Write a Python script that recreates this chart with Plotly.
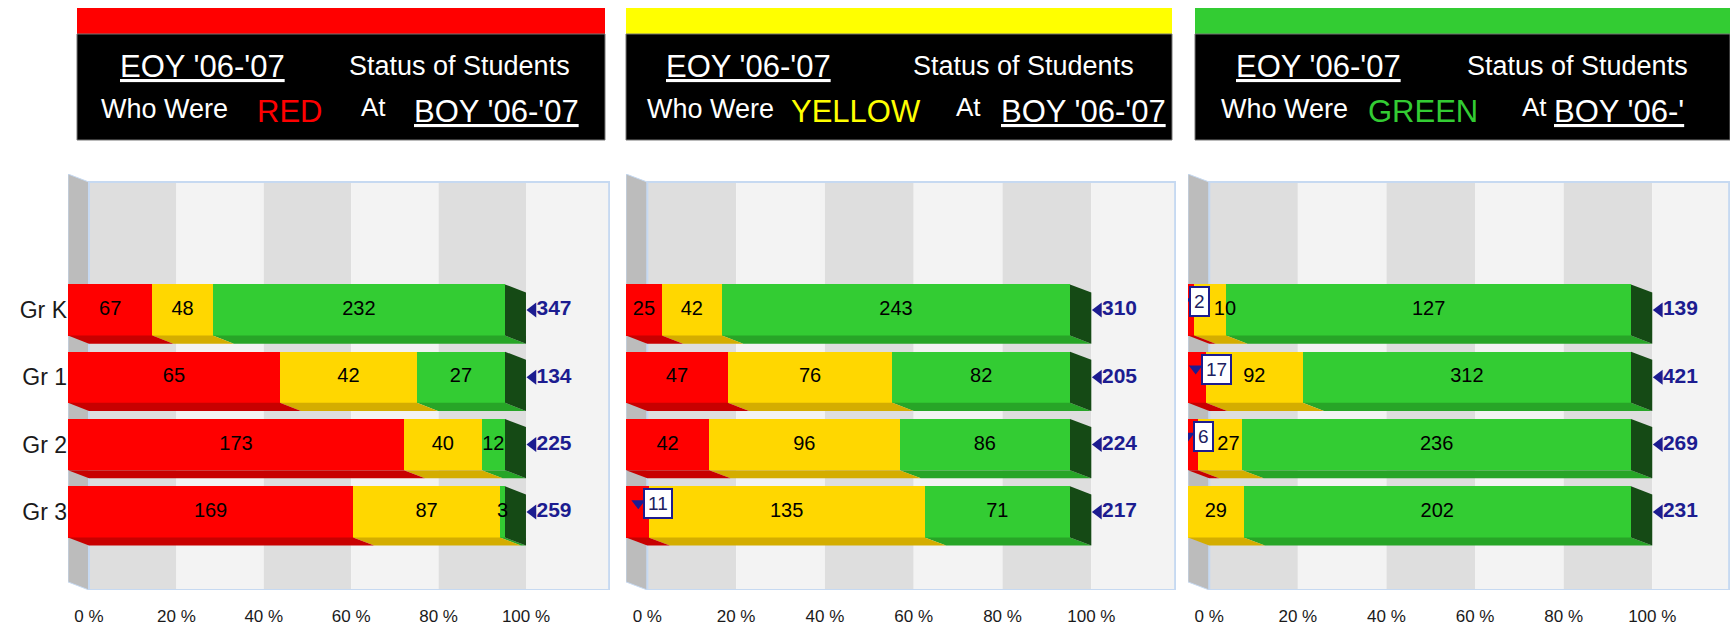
import plotly.graph_objects as go

# ---------------- data ----------------
grades = ["Gr K", "Gr 1", "Gr 2", "Gr 3"]
boy_status = ["RED", "YELLOW", "GREEN"]

# EOY '06-'07 status counts of students who were RED at BOY
red_to_red = [67, 65, 173, 169]
red_to_yellow = [48, 42, 40, 87]
red_to_green = [232, 27, 12, 3]
# ... who were YELLOW at BOY
yellow_to_red = [25, 47, 42, 11]
yellow_to_yellow = [42, 76, 96, 135]
yellow_to_green = [243, 82, 86, 71]
# ... who were GREEN at BOY
green_to_red = [2, 17, 6, 0]
green_to_yellow = [10, 92, 27, 29]
green_to_green = [127, 312, 236, 202]

tick_values = [0, 20, 40, 60, 80, 100]
tick_labels = ["0 %", "20 %", "40 %", "60 %", "80 %", "100 %"]

series_by_panel = [
    [red_to_red, red_to_yellow, red_to_green],
    [yellow_to_red, yellow_to_yellow, yellow_to_green],
    [green_to_red, green_to_yellow, green_to_green],
]

# ---------------- styling / layout ----------------
W, H = 1730, 629
FONT = "Liberation Sans, Arial, sans-serif"
# (left px, right px, px per percent) for each panel
panel_px = [(68, 610, 4.37), (626, 1176, 4.44), (1188, 1730, 4.43)]
y_px = (174, 590)
Y_TOP, Y_BOT = -2.02, 4.16
DX, DY = 4.8, 0.12          # 3-D depth (x in %, y in row units)
BAR_W = 0.76
seg_colors = ["#ff0000", "#ffd700", "#33cc33"]
bottom_colors = ["#c80000", "#d4ad00", "#27a527"]
side_color = "#154a15"
wall_dark, wall_light, wall_left, wall_border = "#dedede", "#f3f3f3", "#bcbcbc", "#c6d9f1"
navy = "#1c1c90"

header_px = [(77, 605), (626, 1172), (1195, 1730)]
strip_colors = ["#ff0000", "#ffff00", "#33cc33"]
word_colors = ["#ff0000", "#ffff00", "#33cc33"]
header_texts = [
    # (text, center_x, center_y, size, color)
    [("<u>EOY '06-'07</u>", 202, 66, 31, "white"), ("Status of Students", 459, 66, 27, "white"),
     ("Who Were", 164, 109, 27, "white"), ("RED", 289, 111, 31, word_colors[0]),
     ("At", 373, 107, 26, "white"), ("<u>BOY '06-'07</u>", 496, 111, 31, "white")],
    [("<u>EOY '06-'07</u>", 748, 66, 31, "white"), ("Status of Students", 1023, 66, 27, "white"),
     ("Who Were", 710, 109, 27, "white"), ("YELLOW", 856, 111, 31, word_colors[1]),
     ("At", 968, 107, 26, "white"), ("<u>BOY '06-'07</u>", 1083, 111, 31, "white")],
    [("<u>EOY '06-'07</u>", 1318, 66, 31, "white"), ("Status of Students", 1577, 66, 27, "white"),
     ("Who Were", 1284, 109, 27, "white"), ("GREEN", 1423, 111, 31, word_colors[2]),
     ("At", 1534, 107, 26, "white"), ("<u>BOY '06-'</u>", 1619, 111, 31, "white")],
]

LABEL_SIZE = 20
CALLOUT_SIZE = 19
CALLOUT_PAD = 3

fig = go.Figure()
shapes = []
annotations = []
rows = list(range(len(grades)))
x_max = [(r - l) / s for l, r, s in panel_px]

for p, series in enumerate(series_by_panel):
    xa = "x" if p == 0 else f"x{p + 1}"
    ya = "y" if p == 0 else f"y{p + 1}"
    X_MAX = x_max[p]
    pxpp = panel_px[p][2]
    totals = [sum(v) for v in zip(*series)]
    pcts = [[100.0 * v / t if t else 0 for v, t in zip(s, totals)] for s in series]

    # walls (background)
    shapes.append(dict(type="path", xref=xa, yref=ya, layer="below",
                       path=f"M 0,{Y_TOP} L {DX},{Y_TOP + DY} L {DX},{Y_BOT} L 0,{Y_BOT - DY} Z",
                       fillcolor=wall_left, line=dict(color=wall_border, width=1)))
    for i in range(len(tick_values) - 1):
        shapes.append(dict(type="rect", xref=xa, yref=ya, layer="below",
                           x0=tick_values[i] + DX, x1=tick_values[i + 1] + DX,
                           y0=Y_TOP + DY, y1=Y_BOT,
                           fillcolor=wall_dark if i % 2 == 0 else wall_light, line=dict(width=0)))
    shapes.append(dict(type="rect", xref=xa, yref=ya, layer="below",
                       x0=tick_values[-1] + DX, x1=X_MAX, y0=Y_TOP + DY, y1=Y_BOT,
                       fillcolor=wall_light, line=dict(width=0)))
    shapes.append(dict(type="rect", xref=xa, yref=ya, layer="below",
                       x0=DX, x1=X_MAX - 0.2, y0=Y_TOP + DY, y1=Y_BOT,
                       fillcolor="rgba(0,0,0,0)", line=dict(color=wall_border, width=2)))

    # 3-D bottom and side faces
    for r in rows:
        yt, yb = r - BAR_W / 2, r + BAR_W / 2
        start = 0.0
        ends = []
        for k in range(3):
            w = pcts[k][r]
            ends.append((start, start + w))
            start += w
        for k in reversed(range(3)):
            x0, x1 = ends[k]
            if x1 - x0 <= 0:
                continue
            fig.add_trace(go.Scatter(
                x=[x0, x1, x1 + DX, x0 + DX, x0], y=[yb, yb, yb + DY, yb + DY, yb],
                fill="toself", mode="lines", line=dict(width=0), fillcolor=bottom_colors[k],
                xaxis=xa, yaxis=ya, hoverinfo="skip", showlegend=False))
        end = start
        fig.add_trace(go.Scatter(
            x=[end, end + DX, end + DX, end, end], y=[yt, yt + DY, yb + DY, yb, yt],
            fill="toself", mode="lines", line=dict(width=0), fillcolor=side_color,
            xaxis=xa, yaxis=ya, hoverinfo="skip", showlegend=False))

    # bars
    for k in range(3):
        fig.add_trace(go.Bar(
            x=pcts[k], y=rows, orientation="h", width=BAR_W,
            marker=dict(color=seg_colors[k], line=dict(width=0)),
            xaxis=xa, yaxis=ya, showlegend=False, hoverinfo="skip"))

    # segment labels (thin red segments get a call-out box instead)
    lx, ly, lt = [], [], []
    cx, cy, ct = [], [], []
    for r in rows:
        start = 0.0
        min_x = 0.0
        for k in range(3):
            v, w = series[k][r], pcts[k][r]
            if v > 0:
                if k == 0 and w < 6:
                    left = start + w - 1.2
                    cx.append(left)
                    cy.append(r)
                    ct.append(str(v))
                    box_px = 0.56 * CALLOUT_SIZE * len(str(v)) + 2 * CALLOUT_PAD + 6
                    min_x = left + box_px / pxpp
                else:
                    half = (0.56 * LABEL_SIZE * len(str(v)) / 2 + 2) / pxpp
                    lx.append(max(start + w / 2, min_x + half))
                    ly.append(r)
                    lt.append(str(v))
            start += w
    fig.add_trace(go.Scatter(
        x=lx, y=ly, text=lt, mode="text", textposition="middle center",
        textfont=dict(family=FONT, size=LABEL_SIZE, color="black"),
        xaxis=xa, yaxis=ya, showlegend=False, hoverinfo="skip"))

    for x, y, t in zip(cx, cy, ct):
        annotations.append(dict(
            x=x, y=y - BAR_W / 2 + 0.03, xref=xa, yref=ya, xanchor="left", yanchor="top",
            text=t, showarrow=False, bgcolor="white", bordercolor=navy, borderwidth=2,
            borderpad=CALLOUT_PAD, font=dict(family=FONT, size=CALLOUT_SIZE, color="#202060")))
    if cx:
        fig.add_trace(go.Scatter(
            x=[x - 1.1 for x in cx], y=[y - 0.13 for y in cy], mode="markers",
            marker=dict(symbol="triangle-down", size=12, color=navy),
            xaxis=xa, yaxis=ya, showlegend=False, hoverinfo="skip"))

    # totals
    fig.add_trace(go.Scatter(
        x=[100 + DX + 1.6] * len(rows), y=rows, mode="markers",
        marker=dict(symbol="triangle-left", size=13, color=navy),
        xaxis=xa, yaxis=ya, showlegend=False, hoverinfo="skip"))
    fig.add_trace(go.Scatter(
        x=[100 + DX + 2.4] * len(rows), y=rows, text=[f"<b>{t}</b>" for t in totals],
        mode="text", textposition="middle right",
        textfont=dict(family=FONT, size=21, color=navy),
        xaxis=xa, yaxis=ya, showlegend=False, hoverinfo="skip"))

# headers
for p in range(3):
    hx0, hx1 = header_px[p]
    shapes.append(dict(type="rect", xref="paper", yref="paper", x0=hx0 / W, x1=hx1 / W,
                       y0=1 - 34 / H, y1=1 - 8 / H, fillcolor=strip_colors[p], line=dict(width=0)))
    shapes.append(dict(type="rect", xref="paper", yref="paper", x0=hx0 / W, x1=hx1 / W,
                       y0=1 - 140 / H, y1=1 - 34 / H, fillcolor="black",
                       line=dict(color="#777777", width=1)))
    for text, tx, ty, size, color in header_texts[p]:
        annotations.append(dict(x=tx / W, y=1 - ty / H, xref="paper", yref="paper",
                                xanchor="center", yanchor="middle", text=text, showarrow=False,
                                font=dict(family=FONT, size=size, color=color)))

layout_axes = {}
for p in range(3):
    xk = "xaxis" if p == 0 else f"xaxis{p + 1}"
    yk = "yaxis" if p == 0 else f"yaxis{p + 1}"
    x0, x1, _ = panel_px[p]
    layout_axes[xk] = dict(
        domain=[x0 / W, x1 / W], range=[0, x_max[p]], anchor="y" if p == 0 else f"y{p + 1}",
        showgrid=False, zeroline=False, showline=False, ticks="",
        tickvals=[t + DX for t in tick_values], ticktext=tick_labels,
        tickfont=dict(family=FONT, size=17, color="#1a1a1a"), ticklabelstandoff=14)
    ydict = dict(
        domain=[1 - y_px[1] / H, 1 - y_px[0] / H], range=[Y_BOT, Y_TOP],
        anchor="x" if p == 0 else f"x{p + 1}",
        showgrid=False, zeroline=False, showline=False, ticks="",
        tickvals=rows, ticktext=grades,
        tickfont=dict(family=FONT, size=23, color="#1a1a1a"),
        showticklabels=(p == 0))
    if p > 0:
        ydict["matches"] = "y"
    layout_axes[yk] = ydict

fig.update_layout(
    width=W, height=H, margin=dict(l=0, r=0, t=0, b=0),
    paper_bgcolor="white", plot_bgcolor="rgba(0,0,0,0)",
    barmode="stack", bargap=0, showlegend=False,
    font=dict(family=FONT), shapes=shapes, annotations=annotations,
    **layout_axes)

fig.write_html("out.html", config={"displayModeBar": False},
               post_script="document.body.style.margin='0';document.body.style.overflow='hidden';")
